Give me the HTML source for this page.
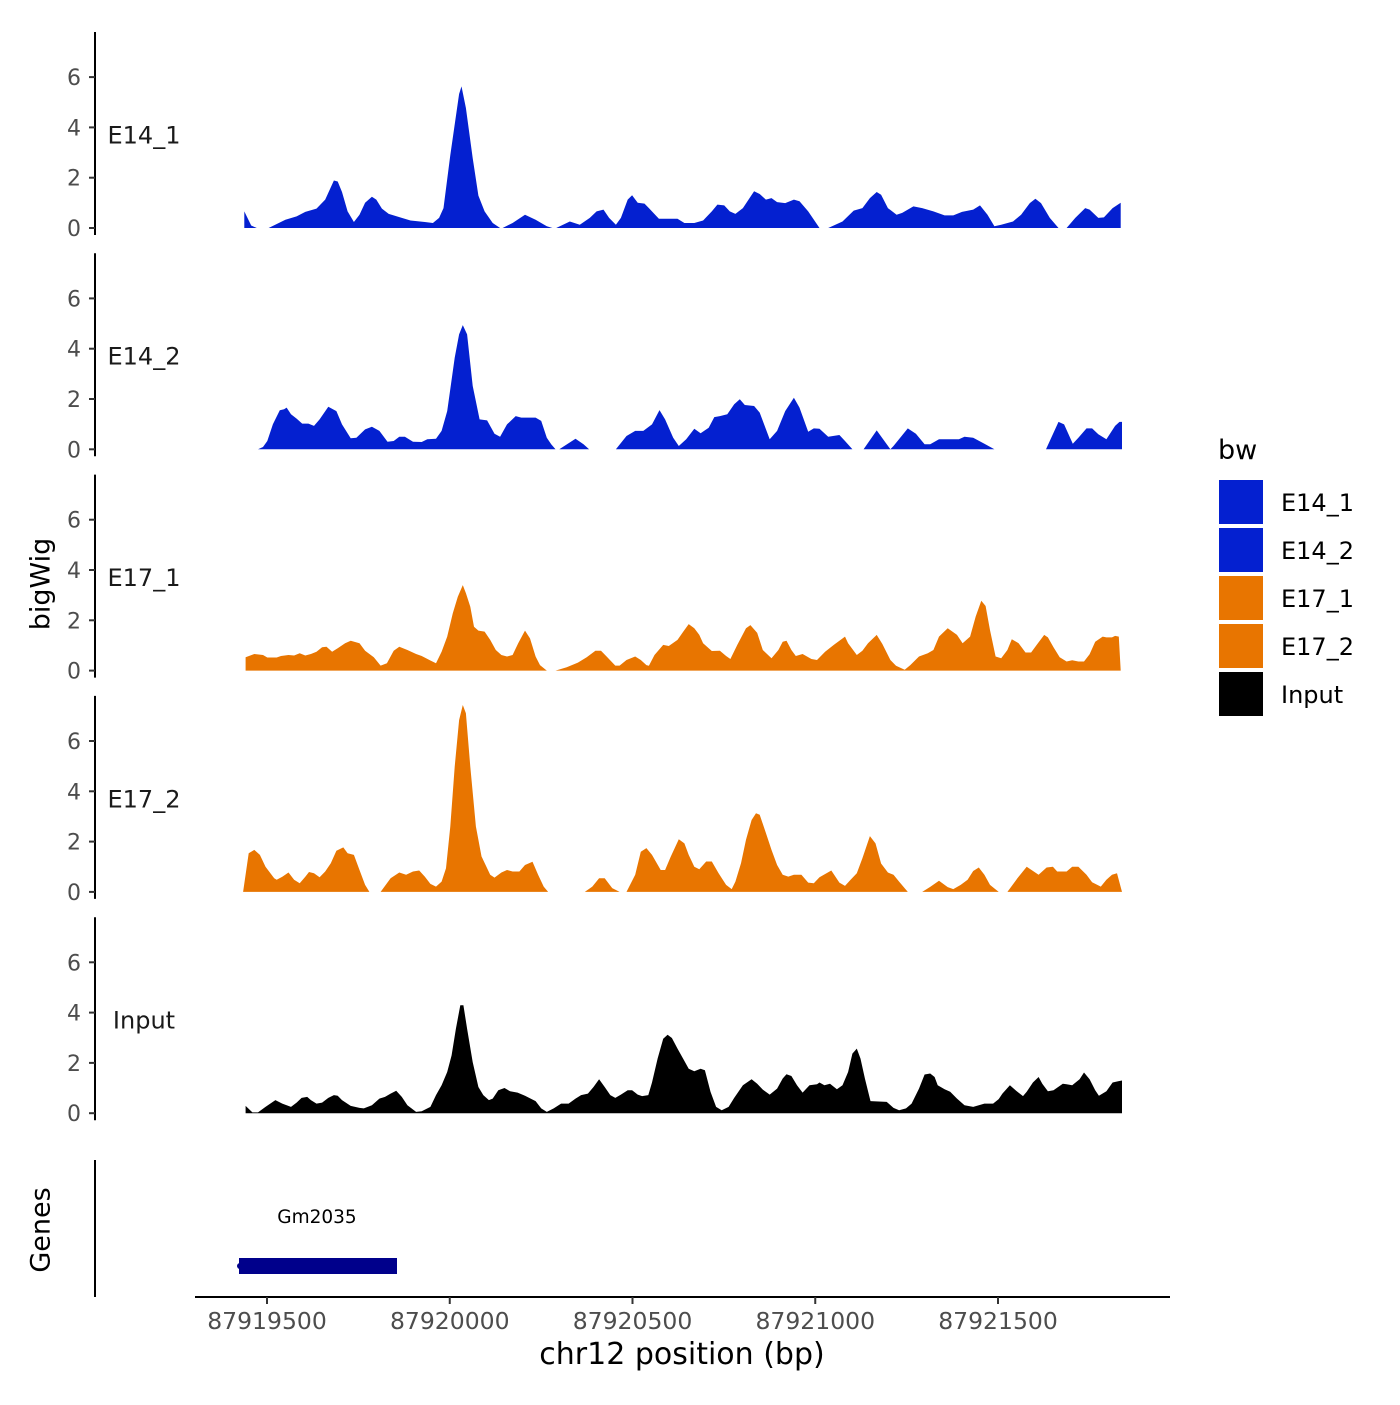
<!DOCTYPE html>
<html><head><meta charset="utf-8"><style>
body{margin:0;background:#fff}
svg{font-family:"DejaVu Sans","Liberation Sans",sans-serif}
</style></head><body>
<svg id="chart" width="1400" height="1400" viewBox="0 0 1400 1400" xmlns="http://www.w3.org/2000/svg">
<rect width="1400" height="1400" fill="#fff"/>
<g id="tracks"></g>
<g id="axes"></g>
<text x="42" y="584" transform="rotate(-90 42 584)" text-anchor="middle" dominant-baseline="middle" font-size="27" fill="#000">bigWig</text>
<line x1="95" y1="1160" x2="95" y2="1297" stroke="#000" stroke-width="2"/>
<text x="42" y="1230" transform="rotate(-90 42 1230)" text-anchor="middle" dominant-baseline="middle" font-size="27" fill="#000">Genes</text>
<text x="317" y="1223" text-anchor="middle" font-size="18.5" fill="#000">Gm2035</text>
<rect x="239" y="1258" width="158" height="16" fill="#00008B"/>
<circle cx="240" cy="1266" r="3" fill="#00008B"/>
<line x1="195" y1="1297" x2="1170" y2="1297" stroke="#000" stroke-width="2"/>
<g id="xticks"></g>
<text x="682" y="1364" text-anchor="middle" font-size="30" fill="#000">chr12 position (bp)</text>
<g>
<text x="1218" y="459" font-size="27" fill="#000">bw</text>
<g id="legend-items"></g>
</g>
</svg>
<script>
// positions are in "sample units"; genomic bp = START_BP + (unit - UNIT0) * BP_PER_UNIT
const START_BP = 87919426;
const UNIT0 = 26;
const BP_PER_UNIT = 1.703;
const xTicks = [87919500, 87920000, 87920500, 87921000, 87921500];
const yTicks = [0, 2, 4, 6];
const trackNames = ["E14_1", "E14_2", "E17_1", "E17_2", "Input"];
const trackColors = ["#0420D0", "#0420D0", "#E87500", "#E87500", "#000000"];

const e14_1_pos = [33,44,53,null,72,99,117,131,149,163,177,183,190,199,209,218,227,238,245,254,265,286,300,323,336,346,353,364,378,382,389,400,409,419,432,444,null,448,464,484,501,519,528,null,534,556,572,588,599,610,619,630,638,649,656,665,676,683,699,729,740,756,770,784,793,804,813,822,834,852,861,871,880,889,902,916,925,939,957,null,971,994,1012,1026,1038,1049,1056,1067,1081,1090,1108,1122,1140,1158,1172,1186,1204,1215,1227,1238,1249,1268,1281,1295,1304,1313,1327,1341,null,1354,1368,1384,1391,1405,1414,1428,1441];
const e14_1_val = [0.66,0.1,0,null,0,0.33,0.46,0.64,0.77,1.13,1.89,1.85,1.43,0.66,0.24,0.53,1.0,1.24,1.13,0.77,0.56,0.4,0.3,0.24,0.2,0.4,0.79,2.9,5.33,5.63,4.77,2.78,1.29,0.66,0.2,0,null,0,0.2,0.53,0.33,0.07,0,null,0,0.26,0.13,0.4,0.66,0.73,0.4,0.13,0.4,1.13,1.3,1.0,0.97,0.79,0.37,0.37,0.2,0.2,0.3,0.66,0.93,0.9,0.66,0.56,0.79,1.46,1.35,1.13,1.19,1.03,0.99,1.13,1.06,0.66,0,null,0,0.26,0.69,0.79,1.19,1.43,1.32,0.79,0.53,0.6,0.86,0.79,0.66,0.5,0.5,0.64,0.73,0.9,0.53,0.07,0.13,0.26,0.53,0.99,1.16,0.99,0.4,0,null,0,0.4,0.79,0.73,0.4,0.42,0.79,1.0];

const e14_2_pos = [55,63,70,79,90,97,101,108,117,126,136,145,154,168,181,190,204,213,227,238,250,263,273,282,291,304,318,327,341,350,359,371,378,384,391,400,411,423,435,444,455,469,478,501,510,519,526,533,null,539,565,578,587,null,630,647,661,674,688,700,709,722,731,743,756,766,779,788,797,809,820,829,837,852,861,877,889,902,916,925,939,948,957,971,989,998,1010,null,1028,1049,1071,1076,1099,1112,1126,1135,1149,1181,1190,1204,1222,1238,null,1321,1341,1350,1364,1373,1386,1395,1405,1418,1432,1439,1443];
const e14_2_val = [0,0.09,0.33,1.0,1.55,1.59,1.66,1.39,1.22,1.02,1.02,0.93,1.19,1.69,1.52,0.99,0.44,0.46,0.79,0.9,0.73,0.3,0.33,0.5,0.5,0.3,0.29,0.4,0.42,0.73,1.52,3.64,4.57,4.94,4.57,2.52,1.19,1.15,0.62,0.5,0.99,1.32,1.26,1.26,1.13,0.46,0.2,0,null,0,0.42,0.2,0,null,0,0.53,0.73,0.73,0.99,1.56,1.19,0.46,0.13,0.4,0.82,0.64,0.86,1.28,1.32,1.39,1.79,1.99,1.76,1.72,1.46,0.4,0.73,1.52,2.05,1.66,0.7,0.83,0.82,0.5,0.57,0.33,0,null,0,0.75,0,0.13,0.83,0.62,0.2,0.2,0.4,0.4,0.5,0.46,0.22,0,null,0,1.09,0.99,0.22,0.46,0.83,0.83,0.6,0.4,0.93,1.09,1.09];

const e17_1_pos = [35,49,63,70,85,92,104,113,122,131,140,149,158,165,174,183,195,204,218,227,241,252,262,273,282,295,309,318,332,341,350,359,368,376,384,389,396,402,409,419,428,437,446,455,464,473,484,492,501,508,519,null,533,551,569,583,597,606,615,629,636,647,661,670,679,683,692,706,715,729,738,747,756,764,770,784,797,807,814,825,839,846,857,866,880,891,898,904,912,919,930,944,953,966,980,998,1003,1017,1026,1035,1049,1058,1071,1080,1094,1103,1117,1131,1140,1149,1163,1178,1187,1199,1208,1217,1224,1231,1240,1249,1259,1266,1277,1288,1297,1306,1318,1324,1333,1343,1354,1363,1373,1382,1391,1400,1412,1418,1427,1432,1438,1441];
const e17_1_val = [0.53,0.66,0.62,0.52,0.52,0.58,0.62,0.6,0.69,0.6,0.66,0.75,0.93,0.95,0.75,0.89,1.09,1.19,1.09,0.79,0.53,0.2,0.29,0.79,0.95,0.82,0.66,0.58,0.4,0.29,0.75,1.35,2.28,2.94,3.4,3.08,2.54,1.74,1.59,1.55,1.22,0.82,0.62,0.56,0.62,1.09,1.59,1.28,0.56,0.22,0,null,0,0.13,0.32,0.53,0.79,0.79,0.56,0.2,0.2,0.42,0.56,0.42,0.22,0.19,0.62,1.02,0.98,1.22,1.54,1.85,1.68,1.42,1.09,0.78,0.79,0.58,0.46,1.02,1.68,1.81,1.5,0.82,0.49,0.82,1.15,1.19,0.82,0.58,0.66,0.46,0.42,0.75,1.02,1.35,1.09,0.62,0.79,1.09,1.42,1.06,0.42,0.19,0.03,0.22,0.56,0.69,0.82,1.35,1.68,1.42,1.09,1.35,2.15,2.78,2.57,1.61,0.56,0.49,0.82,1.25,1.09,0.72,0.72,1.02,1.42,1.32,0.93,0.53,0.36,0.41,0.36,0.36,0.65,1.15,1.35,1.32,1.32,1.38,1.35,0];

const e17_2_pos = [31,40,49,58,67,81,85,94,104,113,122,131,137,145,154,163,172,181,192,199,209,218,227,234,null,252,268,282,293,304,314,323,332,341,350,357,364,371,378,384,389,396,405,414,428,435,446,455,464,475,484,496,505,514,521,null,580,592,603,612,624,636,null,647,661,670,679,688,702,709,718,731,740,747,756,764,775,784,795,807,816,822,831,839,848,855,861,871,880,889,898,907,916,928,939,948,957,976,989,998,1007,1017,1026,1038,1047,1056,1067,1076,1085,1099,null,1122,1135,1149,1163,1172,1184,1195,1204,1213,1222,1231,1245,null,1259,1275,1290,1309,1322,1332,1339,1354,1363,1373,1386,1395,1409,1418,1427,1435,1443];
const e17_2_val = [0,1.54,1.67,1.47,1.0,0.54,0.48,0.6,0.77,0.48,0.34,0.6,0.79,0.74,0.58,0.81,1.14,1.64,1.77,1.54,1.47,0.87,0.28,0,null,0,0.54,0.77,0.68,0.81,0.85,0.61,0.32,0.21,0.41,0.94,2.6,4.98,6.83,7.43,7.1,4.98,2.6,1.41,0.68,0.57,0.77,0.87,0.81,0.81,1.07,1.2,0.68,0.21,0,null,0,0.21,0.54,0.54,0.15,0,null,0,0.68,1.6,1.74,1.47,0.87,0.87,1.4,2.09,1.93,1.47,1.0,0.9,1.21,1.21,0.74,0.28,0.11,0.41,1.14,2.07,2.86,3.13,3.07,2.34,1.67,1.07,0.68,0.61,0.68,0.68,0.37,0.34,0.58,0.85,0.37,0.24,0.48,0.74,1.34,2.22,1.93,1.13,0.77,0.68,0.41,0,null,0,0.2,0.44,0.19,0.11,0.28,0.48,0.83,0.97,0.68,0.28,0,null,0,0.54,1.0,0.68,0.97,1.0,0.81,0.81,1.0,1.0,0.68,0.38,0.21,0.48,0.68,0.74,0];

const input_pos = [35,46,55,67,83,94,108,117,125,134,140,149,158,168,177,183,190,204,218,225,238,250,259,268,277,286,295,309,318,332,341,350,359,366,373,380,385,391,400,409,417,426,432,441,451,460,472,484,501,510,519,530,542,554,565,574,585,594,603,612,621,629,638,649,656,665,672,682,688,697,706,713,720,729,738,747,756,766,773,782,791,800,811,820,834,848,857,866,877,889,898,904,912,921,930,941,953,957,965,974,985,994,1003,1010,1017,1023,1030,1039,1065,1076,1085,1096,1105,1117,1126,1135,1142,1147,1158,1167,1178,1190,1204,1213,1222,1236,1245,1251,1263,1275,1284,1290,1300,1309,1315,1324,1333,1348,1354,1363,1375,1382,1391,1400,1406,1418,1428,1437,1443];
const input_val = [0.29,0.03,0.03,0.25,0.52,0.38,0.25,0.42,0.61,0.65,0.52,0.38,0.42,0.61,0.72,0.69,0.52,0.29,0.21,0.19,0.32,0.58,0.65,0.78,0.89,0.65,0.32,0.05,0.08,0.25,0.72,1.11,1.64,2.3,3.36,4.29,4.29,3.36,2.03,1.04,0.72,0.52,0.58,0.91,1.0,0.87,0.82,0.69,0.48,0.19,0.05,0.19,0.38,0.38,0.58,0.72,0.78,1.04,1.35,1.04,0.72,0.61,0.74,0.91,0.91,0.74,0.68,0.72,1.22,2.17,2.96,3.12,2.99,2.57,2.17,1.77,1.67,1.77,1.71,0.85,0.25,0.12,0.25,0.61,1.11,1.35,1.17,0.94,0.74,0.98,1.38,1.55,1.48,1.11,0.82,1.11,1.15,1.22,1.11,1.17,0.95,1.11,1.64,2.37,2.57,2.17,1.38,0.48,0.45,0.21,0.12,0.19,0.38,0.98,1.54,1.58,1.44,1.11,0.95,0.85,0.58,0.32,0.25,0.32,0.38,0.38,0.56,0.78,1.11,0.85,0.68,0.85,1.22,1.44,1.17,0.87,0.91,1.17,1.15,1.11,1.35,1.62,1.35,0.91,0.69,0.87,1.22,1.27,1.3];

const seriesPos = [e14_1_pos, e14_2_pos, e17_1_pos, e17_2_pos, input_pos];
const seriesVal = [e14_1_val, e14_2_val, e17_1_val, e17_2_val, input_val];

const NS = "http://www.w3.org/2000/svg";
function xScale(bp){ return 267 + (bp - 87919500) * 0.3655; }
function unitToBp(u){ return START_BP + (u - UNIT0) * BP_PER_UNIT; }
function panelZero(k){ return 228 + k * 221.3; }
function yScale(k, v){ return panelZero(k) - v * 25.15; }
function mk(tag, attrs, parent){ const e = document.createElementNS(NS, tag); for (const a in attrs) e.setAttribute(a, attrs[a]); parent.appendChild(e); return e; }

const tracks = document.getElementById('tracks');
const axes = document.getElementById('axes');
for (let k = 0; k < 5; k++) {
  const z = panelZero(k);
  const line = mk('line', {x1:95, y1:z-196, x2:95, y2:z+7, stroke:'#000', 'stroke-width':2}, axes);
  
  
  yTicks.forEach(t => {
    const y = yScale(k, t);
    const tk = mk('line', {x1:89, y1:y, x2:95, y2:y, stroke:'#333', 'stroke-width':2}, axes);
    
    
    const lb = mk('text', {x:81, y:y+8, 'text-anchor':'end', 'font-size':22, fill:'#4d4d4d'}, axes);
    lb.textContent = t;
    
    
  });
  const nm = mk('text', {x:144, y:yScale(k,4)+16, 'text-anchor':'middle', 'font-size':24, fill:'#1a1a1a'}, axes);
  nm.textContent = trackNames[k];
  
  

  const P = seriesPos[k], V = seriesVal[k];
  let seg = [];
  const segs = [];
  for (let i = 0; i < P.length; i++) {
    if (P[i] === null) { if (seg.length) segs.push(seg); seg = []; continue; }
    seg.push([xScale(unitToBp(P[i])), yScale(k, V[i])]);
  }
  if (seg.length) segs.push(seg);
  segs.forEach(s => {
    let d = 'M' + s[0][0].toFixed(1) + ',' + z.toFixed(1);
    s.forEach(p => { d += 'L' + p[0].toFixed(1) + ',' + p[1].toFixed(1); });
    d += 'L' + s[s.length-1][0].toFixed(1) + ',' + z.toFixed(1) + 'Z';
    const path = mk('path', {d:d, fill:trackColors[k]}, tracks);
    
    
  });
}

const xt = document.getElementById('xticks');
xTicks.forEach(t => {
  const x = xScale(t);
  const tk = mk('line', {x1:x, y1:1297, x2:x, y2:1304, stroke:'#333', 'stroke-width':2}, xt);
  
  
  const lb = mk('text', {x:x, y:1329, 'text-anchor':'middle', 'font-size':23.5, fill:'#4d4d4d'}, xt);
  lb.textContent = t;
  
  
});

const leg = document.getElementById('legend-items');
trackNames.forEach((n, i) => {
  const y = 480 + i * 48;
  const r = mk('rect', {x:1219, y:y, width:44, height:44, fill:trackColors[i]}, leg);
  
  
  const t = mk('text', {x:1281, y:y+31, 'font-size':24, fill:'#000'}, leg);
  t.textContent = n;
  
  
});
</script>
</body></html>
